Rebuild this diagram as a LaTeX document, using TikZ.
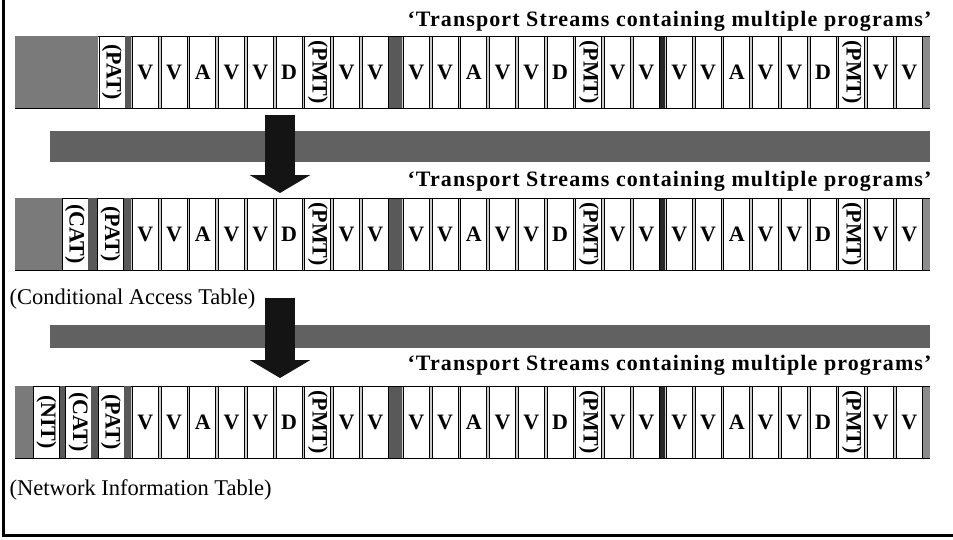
\documentclass[tikz,border=0pt]{standalone}
\usepackage{fontspec}
\setmainfont{Liberation Serif}
\usepackage{graphicx}
\usetikzlibrary{arrows.meta}
\newcommand\vlab[1]{\rotatebox{-90}{(#1)}}

\begin{document}
\begin{tikzpicture}[x=1pt,y=-1pt,font=\fontsize{22}{22}\selectfont\bfseries,
  cell/.style={draw,line width=.8pt,fill=white,minimum width=26pt,minimum height=72pt,inner sep=0pt},
  shade/.style={fill=black!52},
  band/.style={fill=black!62},
  blockarrow/.style={line width=30pt,draw=black!92,-{Triangle[width=60pt,length=18pt]}},
  title/.style={anchor=base east,font=\fontsize{22}{24}\selectfont\bfseries\addfontfeature{LetterSpace=5}},
  note/.style={anchor=base west,font=\fontsize{22.5}{24}\selectfont\mdseries}]
\useasboundingbox (0,0) rectangle (953,539);
\draw[line width=3pt] (3,0)--(3,535)--(953,535);
% the three streams
\foreach \r/\y in {1/72,2/234,3/422}{
  \fill[black!20] (131,\y-36) rectangle (923,\y+36);
  \fill[black!65] (389,\y-36) rectangle (402,\y+36);
  \fill[black!85] (659,\y-36) rectangle (665,\y+36);
  \fill[black!45] (923,\y-36) rectangle (930,\y+36);
  \foreach \g/\x in {1/131,2/402,3/665}
    \foreach \t [count=\i] in {V,V,A,V,V,D,\vlab{PMT},V,V}
      \node[cell] (r\r g\g c\i) at (\x+\i*28.75-14.375,\y) {\t};
  \draw[line width=1pt] (15,\y-36)--(930,\y-36) (15,\y+36)--(930,\y+36);
}
% headers of each stream
\fill[shade] (15,36) rectangle (98,108);
\node[cell] (r1pat) at (112,72) {\vlab{PAT}};
\fill[black!65] (125,36) rectangle (131,108);
\fill[shade] (15,198) rectangle (62,270);
\node[cell] (r2cat) at (75,234) {\vlab{CAT}};
\fill[black!65] (88,198) rectangle (97,270);
\node[cell] (r2pat) at (110.5,234) {\vlab{PAT}};
\fill[black!65] (124,198) rectangle (131,270);
\fill[shade] (15,386) rectangle (33,458);
\node[cell] (r3nit) at (46.5,422) {\vlab{NIT}};
\fill[black!65] (60,386) rectangle (66,458);
\node[cell] (r3cat) at (78.5,422) {\vlab{CAT}};
\fill[black!65] (91,386) rectangle (98,458);
\node[cell] (r3pat) at (111,422) {\vlab{PAT}};
\fill[black!65] (124,386) rectangle (131,458);
% bands and arrows
\fill[band] (50,131) rectangle (930,162);
\fill[band] (50,325) rectangle (930,348);
\coordinate (a1s) at (280,115); \coordinate (a1e) at (280,193);
\coordinate (a2s) at (280,298); \coordinate (a2e) at (280,378);
\draw[blockarrow] (a1s)--(a1e);
\draw[blockarrow] (a2s)--(a2e);
% texts
\node[title] (t1) at (935,26) {`Transport Streams containing multiple programs'};
\node[title] (t2) at (935,186) {`Transport Streams containing multiple programs'};
\node[title] (t3) at (935,370) {`Transport Streams containing multiple programs'};
\node[note] (catnote) at (6,304) {(Conditional Access Table)};
\node[note] (nitnote) at (6,495) {(Network Information Table)};
\end{tikzpicture}
\end{document}
